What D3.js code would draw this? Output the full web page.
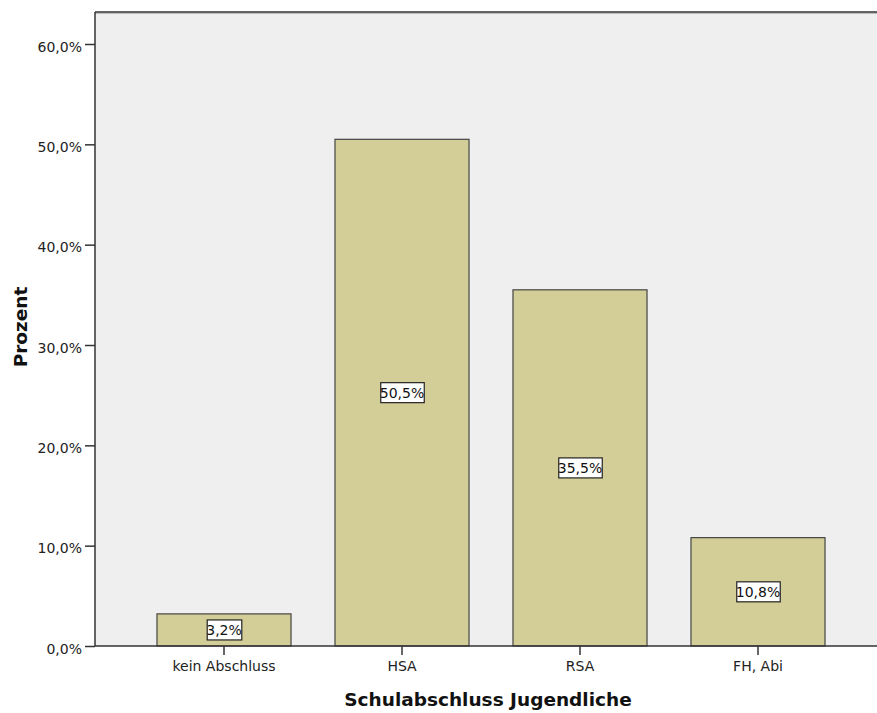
<!DOCTYPE html>
<html>
<head>
<meta charset="utf-8">
<script src="https://cdn.jsdelivr.net/npm/d3@7"></script>
<style>
  body { margin: 0; background: #fff; }
  svg { display: block; }
</style>
</head>
<body>
<svg id="chart" width="877" height="713"></svg>
<script>
const categories = ["kein Abschluss", "HSA", "RSA", "FH, Abi"];
const percents = [3.2, 50.5, 35.5, 10.8];
const yTicks = [0, 10, 20, 30, 40, 50, 60];

const FONT = "DejaVu Sans, Verdana, sans-serif";
const svg = d3.select("#chart");
const fmt = v => v.toFixed(1).replace(".", ",") + "%";

const plot = { left: 95, right: 877, top: 12, bottom: 646 };

const y = d3.scaleLinear().domain([0, 60]).range([646, 44]);
const x = d3.scaleBand().domain(categories).range([135, 847])
  .paddingInner(0.247).paddingOuter(0.1235);

// plot background
svg.append("rect")
  .attr("x", plot.left).attr("y", plot.top)
  .attr("width", plot.right - plot.left).attr("height", plot.bottom - plot.top)
  .attr("fill", "#efefef");

// frame top edge (double line)
svg.append("line").attr("x1", plot.left).attr("x2", plot.right)
  .attr("y1", plot.top).attr("y2", plot.top)
  .attr("stroke", "#333").attr("stroke-width", 1.5);
svg.append("line").attr("x1", plot.left).attr("x2", plot.right)
  .attr("y1", plot.top + 1.5).attr("y2", plot.top + 1.5)
  .attr("stroke", "#bbb").attr("stroke-width", 1);

// bars
svg.selectAll("rect.bar").data(categories).join("rect")
  .attr("class", "bar")
  .attr("x", d => x(d))
  .attr("y", (d, i) => y(percents[i]))
  .attr("width", x.bandwidth())
  .attr("height", (d, i) => y(0) - y(percents[i]))
  .attr("fill", "#d3ce97")
  .attr("stroke", "#444")
  .attr("stroke-width", 1.2);

// y axis
const yAxis = d3.axisLeft(y).tickValues(yTicks).tickFormat(fmt).tickSize(10).tickPadding(3);
const gy = svg.append("g").attr("transform", `translate(${plot.left},0)`).call(yAxis);
gy.select(".domain").attr("d", `M0,${plot.top}V${plot.bottom}`).attr("stroke", "#333").attr("stroke-width", 1.5);
gy.selectAll(".tick line").attr("stroke", "#333").attr("stroke-width", 1.5);
gy.selectAll(".tick text").attr("font-family", FONT)
  .attr("font-size", 14).attr("fill", "#222")
  .attr("dy", "0.5em");

// x axis
const xAxis = d3.axisBottom(x).tickSize(9).tickPadding(6);
const gx = svg.append("g").attr("transform", `translate(0,${plot.bottom})`).call(xAxis);
gx.select(".domain").attr("d", `M${plot.left},0H${plot.right}`).attr("stroke", "#333").attr("stroke-width", 1.5);
gx.selectAll(".tick line").attr("stroke", "#333").attr("stroke-width", 1.5);
gx.selectAll(".tick text").attr("font-family", FONT)
  .attr("font-size", 14).attr("fill", "#222");

// value labels in boxes at bar mid-height
const labels = svg.selectAll("g.vlabel").data(categories).join("g")
  .attr("class", "vlabel")
  .attr("transform", (d, i) => `translate(${x(d) + x.bandwidth() / 2},${y(percents[i] / 2)})`);
labels.each(function (d, i) {
  const g = d3.select(this);
  const t = g.append("text")
    .attr("text-anchor", "middle").attr("dy", "0.37em")
    .attr("font-family", FONT)
    .attr("font-size", 14).attr("fill", "#111")
    .text(fmt(percents[i]));
  const bb = t.node().getBBox();
  g.insert("rect", "text")
    .attr("x", bb.x + 1).attr("y", -10)
    .attr("width", bb.width - 1).attr("height", 20)
    .attr("fill", "#fff").attr("stroke", "#222").attr("stroke-width", 1.2);
});

// axis titles
svg.append("text")
  .attr("transform", `translate(27,327) rotate(-90)`)
  .attr("text-anchor", "middle")
  .attr("font-family", FONT)
  .attr("font-weight", "bold").attr("font-size", 18.5).attr("fill", "#111")
  .text("Prozent");
svg.append("text")
  .attr("x", 488).attr("y", 706)
  .attr("text-anchor", "middle")
  .attr("font-family", FONT)
  .attr("font-weight", "bold").attr("font-size", 18.5).attr("fill", "#111")
  .text("Schulabschluss Jugendliche");
</script>
</body>
</html>
